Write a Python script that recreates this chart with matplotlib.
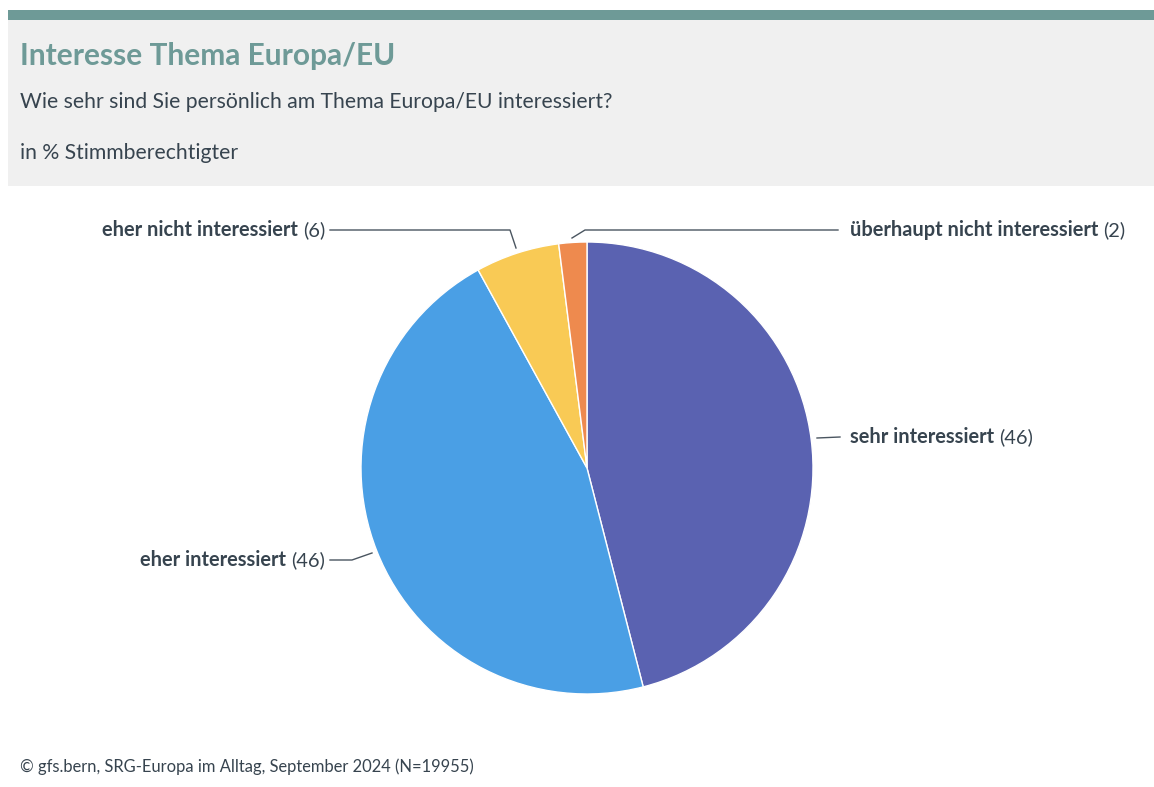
import matplotlib
matplotlib.use("Agg")
import matplotlib.pyplot as plt
from matplotlib.patches import Rectangle

# DATEN
labels = ["sehr interessiert", "eher interessiert", "eher nicht interessiert", "überhaupt nicht interessiert"]
values = [46, 46, 6, 2]
colors = ["#5A62B1", "#4A9FE5", "#F9CA55", "#EE8A4E"]

TITLE = "Interesse Thema Europa/EU"
SUBTITLE = "Wie sehr sind Sie persönlich am Thema Europa/EU interessiert?"
UNIT = "in % Stimmberechtigter"
SOURCE = "© gfs.bern, SRG-Europa im Alltag, September 2024 (N=19955)"

plt.rcParams['font.family'] = ['Lato', 'DejaVu Sans']

W, H = 1154, 787
TXT = "#37444F"

fig = plt.figure(figsize=(W / 100, H / 100), dpi=100)
ax = fig.add_axes([0, 0, 1, 1])
ax.set_xlim(0, W)
ax.set_ylim(0, H)
ax.set_aspect('equal')
ax.axis('off')


def py(y):
    # Pixel-y von oben -> Datenkoordinate
    return H - y


# KOPFBEREICH
ax.add_patch(Rectangle((8, py(186)), W - 8, 166, color="#F0F0F0", lw=0))
ax.add_patch(Rectangle((8, py(20)), W - 8, 10, color="#6E9A97", lw=0))
ax.text(20, py(56), TITLE, fontsize=21.5, fontweight='bold', color="#6E9A97", va='center')
ax.text(20, py(102), SUBTITLE, fontsize=15.2, color=TXT, va='center')
ax.text(20, py(153), UNIT, fontsize=15.2, color=TXT, va='center')
ax.text(20, py(767), SOURCE, fontsize=11.9, color=TXT, va='center')

# KUCHEN
cx, cy, r = 587, py(468), 226
ax.pie(values, colors=colors, startangle=90, counterclock=False, center=(cx, cy),
       radius=r, wedgeprops=dict(edgecolor="white", linewidth=1), frame=True)
ax.set_xlim(0, W)
ax.set_ylim(0, H)
ax.axis('off')

# FUEHRUNGSLINIEN
lc = "#4A5560"
ax.plot([817, 840], [py(438), py(437)], color=lc, lw=1)
ax.plot([372, 352, 330], [py(553), py(560), py(560)], color=lc, lw=1)
ax.plot([516, 510, 330], [py(248), py(230), py(230)], color=lc, lw=1)
ax.plot([572, 585, 838], [py(238), py(230), py(230)], color=lc, lw=1)

fig.canvas.draw()
rend = fig.canvas.get_renderer()


def label(x, y, name, val, ha):
    fs = 14.4
    if ha == 'left':
        t1 = ax.text(x, py(y), name, fontsize=fs, fontweight='bold', color=TXT, va='center', ha='left')
        w = t1.get_window_extent(rend).width
        ax.text(x + w + 5, py(y), "(" + str(val) + ")", fontsize=fs, color=TXT, va='center', ha='left')
    else:
        t2 = ax.text(x, py(y), "(" + str(val) + ")", fontsize=fs, color=TXT, va='center', ha='right')
        w = t2.get_window_extent(rend).width
        ax.text(x - w - 5, py(y), name, fontsize=fs, fontweight='bold', color=TXT, va='center', ha='right')


label(850, 437, labels[0], values[0], 'left')
label(325, 560, labels[1], values[1], 'right')
label(325, 230, labels[2], values[2], 'right')
label(850, 230, labels[3], values[3], 'left')

fig.savefig("out.png", dpi=100, facecolor="white")
